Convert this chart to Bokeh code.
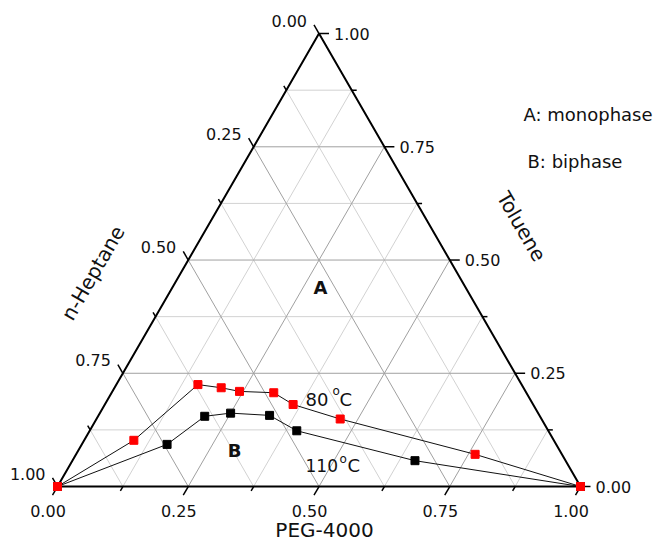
import numpy as np
from bokeh.plotting import figure
from bokeh.models import Range1d
from bokeh.core.properties import value
from bokeh.embed import file_html
from bokeh.resources import INLINE

# ---- data (mass fractions) ----
peg_80 = [0.0, 0.095, 0.156, 0.204, 0.243, 0.310, 0.360, 0.466, 0.763, 1.0]
tol_80 = [0.0, 0.102, 0.225, 0.218, 0.210, 0.207, 0.181, 0.149, 0.071, 0.0]
peg_110 = [0.0, 0.163, 0.204, 0.250, 0.327, 0.396, 0.655, 1.0]
tol_110 = [0.0, 0.093, 0.155, 0.162, 0.157, 0.123, 0.057, 0.0]

major_ticks = [0.0, 0.25, 0.5, 0.75, 1.0]
major_labels = ["0.00", "0.25", "0.50", "0.75", "1.00"]
minor_ticks = [0.125, 0.375, 0.625, 0.875]
grid_major = [0.25, 0.5, 0.75]
grid_minor = [0.125, 0.375, 0.625, 0.875]

H = np.sqrt(3) / 2
S = 523.0  # pixels per unit side
FONT = value("DejaVu Sans")
X0, Y0 = 57.0, 486.0  # canvas position of the n-Heptane vertex


def tern(p, t):
    p = np.asarray(p, float)
    t = np.asarray(t, float)
    return p + 0.5 * t, H * t


def px(X, Y):
    # canvas pixel -> data coords
    return (X - X0) / S, (Y0 - Y) / S


W, HT = 661, 543
p = figure(width=W, height=HT, x_range=Range1d(-X0 / S, (W - X0) / S),
           y_range=Range1d(-(HT - Y0) / S, Y0 / S),
           x_axis_type=None, y_axis_type=None, min_border=0,
           toolbar_location=None, output_backend="svg")
p.outline_line_color = None
p.grid.visible = False


def grid_lines(vals):
    x0, y0, x1, y1 = [], [], [], []
    for k in vals:
        a = tern(k, 0); b = tern(k, 1 - k)           # constant PEG
        x0.append(a[0]); y0.append(a[1]); x1.append(b[0]); y1.append(b[1])
        a = tern(0, k); b = tern(1 - k, k)           # constant toluene
        x0.append(a[0]); y0.append(a[1]); x1.append(b[0]); y1.append(b[1])
        a = tern(0, 1 - k); b = tern(1 - k, 0)       # constant heptane
        x0.append(a[0]); y0.append(a[1]); x1.append(b[0]); y1.append(b[1])
    return x0, y0, x1, y1


gx0, gy0, gx1, gy1 = grid_lines(grid_minor)
p.segment(gx0, gy0, gx1, gy1, line_color="#d2d2d2", line_width=1)
gx0, gy0, gx1, gy1 = grid_lines(grid_major)
p.segment(gx0, gy0, gx1, gy1, line_color="#a0a0a0", line_width=1)

# triangle edges
vx, vy = tern([0, 1, 0, 0], [0, 0, 1, 0])
p.line(list(vx), list(vy), line_color="black", line_width=2)


def ticks(vals, L):
    x0, y0, x1, y1 = [], [], [], []
    for v in vals:
        a = tern(v, 0)        # bottom (PEG)
        x0.append(a[0]); y0.append(a[1]); x1.append(a[0] - 0.5 * L); y1.append(a[1] - H * L)
        a = tern(1 - v, v)    # right (Toluene)
        x0.append(a[0]); y0.append(a[1]); x1.append(a[0] + L); y1.append(a[1])
        a = tern(0, 1 - v)    # left (n-Heptane)
        x0.append(a[0]); y0.append(a[1]); x1.append(a[0] - 0.5 * L); y1.append(a[1] + H * L)
    return x0, y0, x1, y1


tx0, ty0, tx1, ty1 = ticks(major_ticks, 10 / S)
p.segment(tx0, ty0, tx1, ty1, line_color="black", line_width=1.5)
tx0, ty0, tx1, ty1 = ticks(minor_ticks, 5 / S)
p.segment(tx0, ty0, tx1, ty1, line_color="black", line_width=1.5)

# tick labels
mt = np.array(major_ticks)
bx, by = tern(mt, 0 * mt)
p.text(list(bx - 9.5 / S), list(by - 24 / S), text=major_labels, text_align="center",
       text_baseline="middle", text_font=FONT, text_font_size="16px", text_color="#111111")
rx, ry = tern(1 - mt, mt)
p.text(list(rx + 15 / S), list(ry), text=major_labels, text_align="left",
       text_baseline="middle", text_font=FONT, text_font_size="16px", text_color="#111111")
lx, ly = tern(0 * mt, 1 - mt)
p.text(list(lx - 12 / S), list(ly + 13 / S), text=major_labels, text_align="right",
       text_baseline="middle", text_font=FONT, text_font_size="16px", text_color="#111111")

# axis titles
x, y = px(324, 529)
p.text([x], [y], text=["PEG-4000"], text_align="center", text_baseline="middle",
       text_font=FONT, text_font_size="20px", text_color="#111111")
x, y = px(92.5, 272.5)
p.text([x], [y], text=["n-Heptane"], text_align="center", text_baseline="middle", angle=np.pi / 3,
       text_font=FONT, text_font_size="20px", text_color="#111111")
x, y = px(521, 226)
p.text([x], [y], text=["Toluene"], text_align="center", text_baseline="middle", angle=-np.pi / 3,
       text_font=FONT, text_font_size="20px", text_color="#111111")

# data curves
x110, y110 = tern(peg_110, tol_110)
p.line(list(x110), list(y110), line_color="#111111", line_width=1)
p.scatter(list(x110), list(y110), marker="square", size=8, fill_color="black", line_color="black")
x80, y80 = tern(peg_80, tol_80)
p.line(list(x80), list(y80), line_color="#111111", line_width=1)
p.scatter(list(x80), list(y80), marker="square", size=8, fill_color="#ff0000", line_color="#ff0000")


# annotations (centre of the text in canvas pixels)
def put(X, Y, s, size, align="left", bold=False):
    x, y = px(X, Y)
    p.text([x], [y], text=[s], text_align=align, text_baseline="middle",
           text_font=FONT, text_font_size=size, text_color="#111111",
           text_font_style="bold" if bold else "normal")


put(523, 114, "A: monophase", "18px")
put(527, 161, "B: biphase", "18px")
put(320, 287, "A", "18px", "center", True)
put(234, 450, "B", "18px", "center", True)
put(305, 398.5, "80", "18px")
put(332, 390, "o", "12px")
put(339, 398.5, "C", "18px")
put(305, 465, "110", "17px")
put(339, 458, "o", "12px")
put(347, 465, "C", "18px")

open("out.html", "w").write(file_html(p, INLINE))
